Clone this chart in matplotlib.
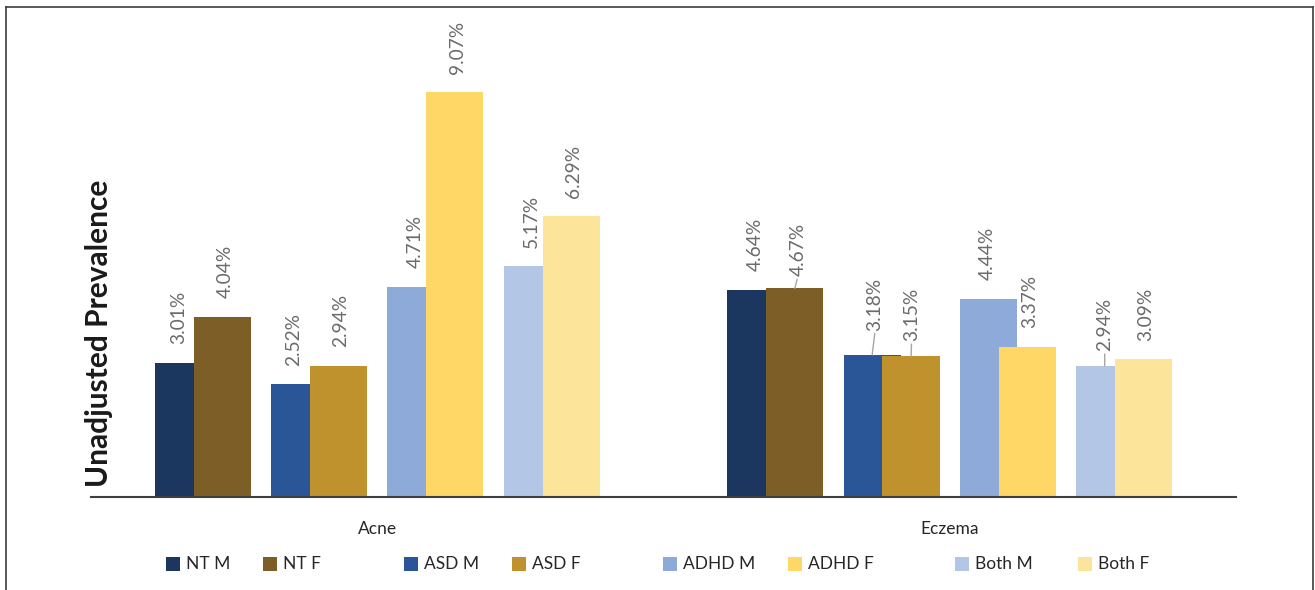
import matplotlib
matplotlib.use("Agg")
import matplotlib.pyplot as plt
from matplotlib.patches import Rectangle
from matplotlib.lines import Line2D

# ---- data -------------------------------------------------------------
categories = ["Acne", "Eczema"]
series_names = ["NT M", "NT F", "ASD M", "ASD F", "ADHD M", "ADHD F", "Both M", "Both F"]

nt_m = [3.01, 4.64]
nt_f = [4.04, 4.67]
asd_m = [2.52, 3.18]
asd_f = [2.94, 3.15]
adhd_m = [4.71, 4.44]
adhd_f = [9.07, 3.37]
both_m = [5.17, 2.94]
both_f = [6.29, 3.09]

series_values = [nt_m, nt_f, asd_m, asd_f, adhd_m, adhd_f, both_m, both_f]
colors = ["#1c375f", "#7c5e26", "#2a5597", "#bf922e",
          "#8eaad8", "#ffd766", "#b4c6e6", "#fde49b"]

# ---- style ------------------------------------------------------------
FONT = ["Lato", "DejaVu Sans"]
plt.rcParams["font.family"] = FONT
LABEL_COLOR = "#6b6b6b"
TEXT_COLOR = "#262626"

W, H = 1315, 590
fig = plt.figure(figsize=(W / 100, H / 100), dpi=100)
fig.patch.set_facecolor("white")

ax_left, ax_right, ax_bottom, ax_top = 91, 1236, 497, 10
ax = fig.add_axes([ax_left / W, (H - ax_bottom) / H,
                   (ax_right - ax_left) / W, (ax_bottom - ax_top) / H])

bar_w = 0.1
pair_step = 0.2031
sex_shift = 0.034

# label offsets in pixels (dx, dy) from the top centre of each bar
label_offsets = {}
for s in range(8):
    for c in range(2):
        label_offsets[(s, c)] = (-1.0 if s % 2 == 0 else 2.5, 18.5)
label_offsets[(0, 0)] = (-5.0, 18.5)
label_offsets[(2, 0)] = (-6.5, 18.5)
label_offsets[(1, 1)] = (3.0, 12.0)
label_offsets[(2, 1)] = (3.0, 24.5)
label_offsets[(3, 1)] = (0.5, 15.0)
label_offsets[(6, 1)] = (0.0, 14.5)
leader_labels = {(1, 1), (2, 1), (3, 1), (6, 1)}

# males first so that the female bar of each pair sits on top
draw_order = [0, 2, 4, 6, 1, 3, 5, 7]
for s in draw_order:
    pair = s // 2
    shift = -sex_shift if s % 2 == 0 else sex_shift
    xs = [c + (pair - 1.5) * pair_step + shift for c in range(len(categories))]
    ax.bar(xs, series_values[s], width=bar_w, color=colors[s], linewidth=0, zorder=2)

for s in range(8):
    pair = s // 2
    shift = -sex_shift if s % 2 == 0 else sex_shift
    for c, v in enumerate(series_values[s]):
        x = c + (pair - 1.5) * pair_step + shift
        dx, dy = label_offsets[(s, c)]
        kw = {}
        if (s, c) in leader_labels:
            kw["arrowprops"] = dict(arrowstyle="-", color="#a6a6a6", lw=1.0,
                                    shrinkA=0, shrinkB=0, relpos=(0.5, 0.0))
        ax.annotate(f"{v:.2f}%", xy=(x, v), xytext=(dx, dy),
                    textcoords="offset pixels", rotation=90,
                    ha="center", va="bottom", fontsize=13.8,
                    color=LABEL_COLOR, zorder=4, **kw)

ax.set_xlim(-0.5, 1.5)
ax.set_ylim(0, (ax_bottom - ax_top) / 44.65)
ax.set_yticks([])
ax.set_xticks(range(len(categories)))
ax.set_xticklabels(categories, fontsize=12.5, color=TEXT_COLOR)
ax.tick_params(axis="x", length=0, pad=17)
for side in ["left", "right", "top"]:
    ax.spines[side].set_visible(False)
ax.spines["bottom"].set_color("#404040")
ax.spines["bottom"].set_linewidth(1.5)
ax.set_facecolor("none")

# y-axis title
fig.text(99 / W, (H - 333) / H, "Unadjusted Prevalence", rotation=90,
         ha="center", va="center", fontsize=21.5, fontweight="bold",
         color="#1a1a1a")

# legend drawn entry by entry along the bottom
legend_x = [166, 263, 404, 512, 663, 788, 955, 1078]
legend_y = 564
sq = 14
for name, col, lx in zip(series_names, colors, legend_x):
    fig.add_artist(Rectangle((lx / W, (H - legend_y - sq / 2) / H), sq / W, sq / H,
                             transform=fig.transFigure, facecolor=col,
                             edgecolor="none"))
    fig.text((lx + sq + 6) / W, (H - legend_y) / H, name, ha="left",
             va="center", fontsize=12.5, color=TEXT_COLOR)

# frame around the chart
frame_kw = dict(transform=fig.transFigure, color="#3c3c3c", lw=1.2)
fig.add_artist(Line2D([5.5 / W, 5.5 / W], [0, (H - 6.5) / H], **frame_kw))
fig.add_artist(Line2D([5.5 / W, 1312.5 / W], [(H - 6.5) / H, (H - 6.5) / H], **frame_kw))
fig.add_artist(Line2D([1312.5 / W, 1312.5 / W], [0, (H - 6.5) / H], **frame_kw))

fig.savefig("out.png", dpi=100, facecolor="white")
